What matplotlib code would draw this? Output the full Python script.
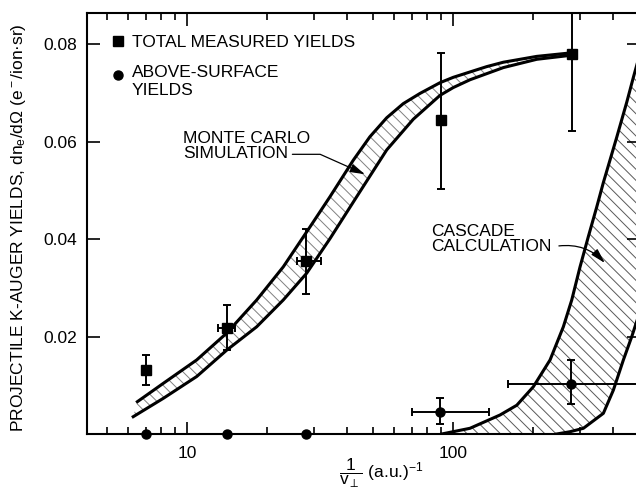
import numpy as np
import matplotlib
matplotlib.use('Agg')
import matplotlib.pyplot as plt
from matplotlib.lines import Line2D

plt.rcParams['font.family'] = ['Liberation Sans', 'DejaVu Sans']
plt.rcParams['mathtext.fontset'] = 'custom'
plt.rcParams['mathtext.rm'] = 'Liberation Sans'
plt.rcParams['mathtext.it'] = 'Liberation Sans:italic'
plt.rcParams['mathtext.sf'] = 'Liberation Sans'
plt.rcParams['hatch.linewidth'] = 0.7

# total measured yields (squares)
tot_x = [7.0, 14.1, 28.0, 89.9, 279.0]
tot_y = [0.0131, 0.0218, 0.0355, 0.0644, 0.0779]
tot_yerr_lo = [0.0031, 0.0046, 0.0068, 0.0141, 0.0157]
tot_yerr_hi = [0.0031, 0.0047, 0.0066, 0.0138, 0.0157]
tot_xerr_lo = [0.0, 1.0, 2.0, 0.0, 0.0]
tot_xerr_hi = [0.0, 1.1, 4.0, 0.0, 0.0]

# above-surface yields (circles)
abv_x = [7.0, 14.1, 28.0, 89.3, 278.0]
abv_y = [0.0, 0.0, 0.0, 0.00445, 0.0103]
abv_yerr_lo = [0.0, 0.0, 0.0, 0.00245, 0.0041]
abv_yerr_hi = [0.0, 0.0, 0.0, 0.00285, 0.0049]
abv_xerr_lo = [0.0, 0.0, 0.0, 19.3, 117.0]
abv_xerr_hi = [0.0, 0.0, 0.0, 46.7, 260.0]

# Monte Carlo simulation band
mc_up_x = [6.51, 8.15, 10.88, 14.10, 18.28, 23.01, 29.00, 34.48, 42.19, 48.7,
           56.33, 65.0, 75.15, 89.35, 100.2, 115.8, 133.9, 154.6, 206.4, 275.4]
mc_up_y = [0.00663, 0.0104, 0.0152, 0.0207, 0.0275, 0.0343, 0.0425, 0.0487,
           0.0562, 0.0610, 0.0649, 0.0678, 0.0699, 0.0721, 0.0732, 0.0743,
           0.0754, 0.0763, 0.0775, 0.0782]
mc_lo_x = [6.28, 8.15, 10.88, 14.10, 18.28, 23.01, 28.18, 34.48, 43.45, 56.33,
           70.9, 89.35, 100.2, 115.8, 154.6, 206.4, 275.4]
mc_lo_y = [0.00355, 0.00732, 0.0118, 0.0172, 0.0220, 0.0275, 0.0330, 0.0401,
           0.0487, 0.0583, 0.0646, 0.0695, 0.0711, 0.0727, 0.0752, 0.0769, 0.0777]

# cascade calculation band
cas_l_x = [90.7, 115.8, 150.2, 173.6, 200.4, 231.6, 259.8, 279.4, 300.2, 322.5,
           346.9, 367.3, 412.4, 449.8, 476.3, 527.0]
cas_l_y = [0.0, 0.00117, 0.0039, 0.0059, 0.0097, 0.0152, 0.0220, 0.0275, 0.0343,
           0.0405, 0.0466, 0.0516, 0.0609, 0.0681, 0.0732, 0.0818]
cas_r_x = [245.4, 275.4, 309.0, 367.3, 400.5, 436.8, 469.8, 487.5, 527.0]
cas_r_y = [0.0, 0.00047, 0.00117, 0.00424, 0.0090, 0.0152, 0.0200, 0.0227, 0.0282]

fig = plt.figure(figsize=(6.36, 4.91), dpi=100)
ax = fig.add_axes([0.1368, 0.1161, 0.8679, 0.8574])
ax.set_xscale('log')
ax.set_xlim(4.21, 500)
ax.set_ylim(0, 0.0864)

# bands
ax.fill(np.r_[mc_up_x, mc_lo_x[::-1]], np.r_[mc_up_y, mc_lo_y[::-1]],
        facecolor='none', edgecolor='0.5', linewidth=0, hatch='\\\\\\')
ax.plot(mc_up_x, mc_up_y, color='k', lw=2.2, solid_joinstyle='round')
ax.plot(mc_lo_x, mc_lo_y, color='k', lw=2.2, solid_joinstyle='round')

ax.fill(np.r_[cas_l_x, cas_r_x[::-1]], np.r_[cas_l_y, cas_r_y[::-1]],
        facecolor='none', edgecolor='0.35', linewidth=0, hatch='\\\\\\')
ax.plot(cas_l_x, cas_l_y, color='k', lw=2.2, solid_joinstyle='round')
ax.plot(cas_r_x, cas_r_y, color='k', lw=2.2, solid_joinstyle='round')

# data points
ax.errorbar(tot_x, tot_y, yerr=[tot_yerr_lo, tot_yerr_hi],
            xerr=[tot_xerr_lo, tot_xerr_hi], fmt='s', color='k', ms=6.5,
            elinewidth=1.4, capsize=3, capthick=1.4)
ax.errorbar(abv_x, abv_y, yerr=[abv_yerr_lo, abv_yerr_hi],
            xerr=[abv_xerr_lo, abv_xerr_hi], fmt='o', color='k', ms=6.5,
            elinewidth=1.4, capsize=3, capthick=1.4, clip_on=False, zorder=5)

# labels and leaders
fs = 12.5
ax.text(9.66, 0.0592, 'MONTE CARLO\nSIMULATION', fontsize=fs, ha='left',
        va='center', linespacing=1.0)
ax.annotate('', xy=(46.7, 0.0533), xytext=(24.9, 0.0574),
            arrowprops=dict(arrowstyle='-|>,head_length=0.9,head_width=0.25',
                            connectionstyle='angle,angleA=0,angleB=-24,rad=0',
                            color='k', lw=0.9, shrinkA=0, shrinkB=0))
ax.text(82.6, 0.0401, 'CASCADE\nCALCULATION', fontsize=fs, ha='left',
        va='center', linespacing=1.0)
ax.annotate('', xy=(372, 0.0351), xytext=(250, 0.0386),
            arrowprops=dict(arrowstyle='-|>,head_length=0.9,head_width=0.25',
                            connectionstyle='arc3,rad=-0.25',
                            color='k', lw=0.9, shrinkA=0, shrinkB=0))

handles = [Line2D([], [], marker='s', ls='none', color='k', ms=6.5),
           Line2D([], [], marker='o', ls='none', color='k', ms=6.5)]
leg = ax.legend(handles, ['TOTAL MEASURED YIELDS', 'ABOVE-SURFACE\nYIELDS'],
                loc='upper left', bbox_to_anchor=(0.045, 0.947), frameon=False,
                fontsize=fs, handlelength=0.7, handletextpad=0.45,
                labelspacing=0.85, borderpad=0, borderaxespad=0)
# keep the circle level with the first line of its label
circ = leg.legend_handles[1]
circ.set_ydata(np.asarray(circ.get_ydata()) + 4.3)

# axes styling
for s in ax.spines.values():
    s.set_linewidth(1.5)
ax.set_yticks([0.02, 0.04, 0.06, 0.08])
ax.set_yticklabels(['0.02', '0.04', '0.06', '0.08'])
ax.set_xticks([10, 100])
ax.set_xticklabels(['10', '100'])
ax.tick_params(which='both', direction='in', top=True, right=True,
               labelsize=fs, width=1.2)
ax.tick_params(which='major', length=9)
ax.tick_params(which='minor', length=5)
ax.tick_params(axis='x', which='major', pad=9)
ax.tick_params(axis='y', which='major', pad=7)

ax.set_ylabel('PROJECTILE K-AUGER YIELDS, dn$_\\mathrm{e}$/d\u03a9 (e$^-$/ion\u00b7sr)',
              fontsize=fs)
ax.yaxis.set_label_coords(-0.106, 0.49)
ax.set_xlabel('$\\dfrac{1}{\\mathrm{v}_\\perp}$ (a.u.)$^{-1}$', fontsize=fs)
ax.xaxis.set_label_coords(0.533, -0.054)

fig.savefig('out.png', dpi=100)
